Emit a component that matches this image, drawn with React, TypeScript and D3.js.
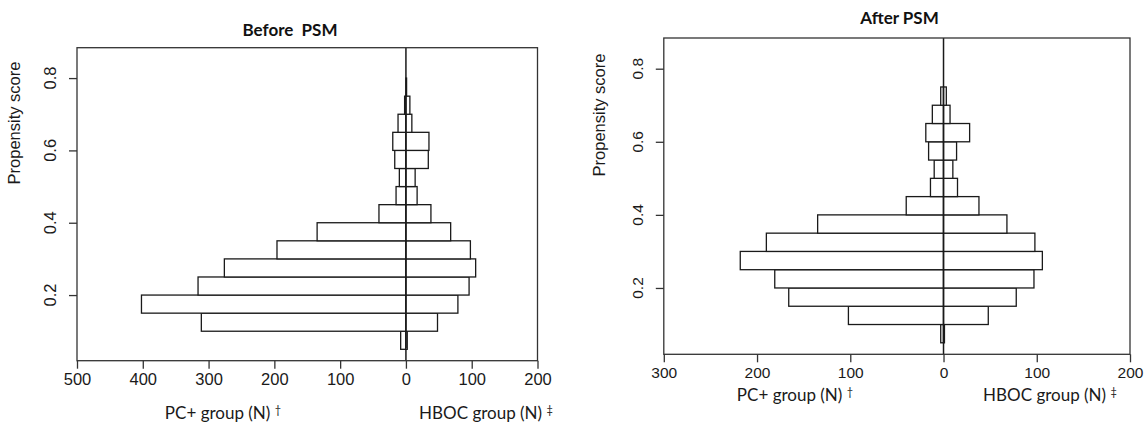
import React, { useEffect, useRef } from 'react';
import * as d3 from 'd3';

// bin lower edges (propensity score), bins are 0.05 wide
const binsBefore = [0.05, 0.10, 0.15, 0.20, 0.25, 0.30, 0.35, 0.40, 0.45, 0.50, 0.55, 0.60, 0.65, 0.70, 0.75];
const pcBefore = [8, 311, 402, 316, 276, 196, 135, 41, 15, 10, 17, 20, 12, 2, 0];
const hbocBefore = [2, 48, 79, 96, 106, 98, 68, 38, 17, 14, 34, 35, 9, 6, 1];

const binsAfter = [0.05, 0.10, 0.15, 0.20, 0.25, 0.30, 0.35, 0.40, 0.45, 0.50, 0.55, 0.60, 0.65, 0.70];
const pcAfter = [3, 102, 166, 181, 218, 190, 135, 40, 14, 10, 16, 19, 12, 3];
const hbocAfter = [1, 48, 78, 97, 106, 98, 68, 38, 15, 10, 14, 28, 7, 3];

const yTicks = [0.2, 0.4, 0.6, 0.8];
const xTicksBefore = [-500, -400, -300, -200, -100, 0, 100, 200];
const xTicksAfter = [-300, -200, -100, 0, 100, 200];

const BIN_W = 0.05;

function drawPanel(svg, p) {
  const x = d3.scaleLinear().domain(p.xDomain).range([p.left, p.right]);
  const y = d3.scaleLinear().domain([0.0185, 0.884]).range([p.bottom, p.top]);
  const g = svg.append('g');
  const ink = '#1a1a1a';

  // bars, left side (PC+) and right side (HBOC)
  p.bins.forEach((b, i) => {
    const y0 = y(b + BIN_W);
    const h = y(b) - y(b + BIN_W);
    if (p.pc[i] > 0) {
      g.append('rect')
        .attr('x', x(-p.pc[i])).attr('y', y0)
        .attr('width', x(0) - x(-p.pc[i])).attr('height', h)
        .attr('fill', 'white').attr('stroke', ink).attr('stroke-width', 1.3);
    }
    if (p.hboc[i] > 0) {
      g.append('rect')
        .attr('x', x(0)).attr('y', y0)
        .attr('width', x(p.hboc[i]) - x(0)).attr('height', h)
        .attr('fill', 'white').attr('stroke', ink).attr('stroke-width', 1.3);
    }
  });

  // zero line
  g.append('line')
    .attr('x1', x(0)).attr('x2', x(0))
    .attr('y1', p.top).attr('y2', p.bottom)
    .attr('stroke', ink).attr('stroke-width', 1.5);

  // box
  g.append('rect')
    .attr('x', p.left).attr('y', p.top)
    .attr('width', p.right - p.left).attr('height', p.bottom - p.top)
    .attr('fill', 'none').attr('stroke', '#333').attr('stroke-width', 1.3);

  // x axis
  const xa = g.append('g')
    .attr('transform', `translate(0,${p.bottom})`)
    .call(d3.axisBottom(x).tickValues(p.xTicks).tickSize(8).tickPadding(5)
      .tickFormat(d => String(Math.abs(d))));
  xa.select('.domain').remove();
  xa.selectAll('line').attr('stroke', '#333').attr('stroke-width', 1.3);
  xa.selectAll('text')
    .attr('font-family', 'Liberation Sans, Arial, sans-serif')
    .attr('font-size', p.tickFont).attr('fill', ink);

  // y axis
  const ya = g.append('g')
    .attr('transform', `translate(${p.left},0)`)
    .call(d3.axisLeft(y).tickValues(yTicks).tickSize(8).tickFormat(d3.format('.1f')));
  ya.select('.domain').remove();
  ya.selectAll('line').attr('stroke', '#333').attr('stroke-width', 1.3);
  ya.selectAll('text').remove();
  yTicks.forEach(t => {
    g.append('text')
      .attr('transform', `translate(${p.yTickX},${y(t)}) rotate(-90)`)
      .attr('text-anchor', 'middle')
      .attr('font-family', 'Liberation Sans, Arial, sans-serif')
      .attr('font-size', p.tickFont).attr('fill', ink)
      .text(d3.format('.1f')(t));
  });

  // y label
  g.append('text')
    .attr('transform', `translate(${p.yLabX},${p.yLabY}) rotate(-90)`)
    .attr('text-anchor', 'middle')
    .attr('font-family', 'Liberation Sans, Arial, sans-serif')
    .attr('font-size', 16.5).attr('fill', ink)
    .text('Propensity score');

  // title
  g.append('text')
    .attr('x', p.titleX).attr('y', p.titleY)
    .attr('text-anchor', 'middle')
    .attr('font-family', 'Lato, sans-serif')
    .attr('font-weight', 'bold')
    .attr('font-size', 17).attr('fill', '#111')
    .attr('xml:space', 'preserve')
    .text(p.title);

  // group labels
  const lab = (cx, txt, mark) => {
    const t = g.append('text')
      .attr('x', cx).attr('y', p.labY)
      .attr('text-anchor', 'middle')
      .attr('font-family', 'Lato, sans-serif')
      .attr('font-size', 17).attr('fill', ink);
    t.append('tspan').text(txt + ' ');
    t.append('tspan').attr('font-size', 11).attr('dy', -5).text(mark);
  };
  lab(p.pcLabX, 'PC+ group (N)', '†');
  lab(p.hbLabX, 'HBOC group (N)', '‡');
}

export default function App() {
  const svgRef = useRef(null);

  useEffect(() => {
    const svg = d3.select(svgRef.current);
    svg.selectAll('*').remove();

    drawPanel(svg, {
      bins: binsBefore, pc: pcBefore, hboc: hbocBefore,
      xDomain: [-500, 200], xTicks: xTicksBefore,
      left: 77, right: 537.5, top: 47.7, bottom: 360.7,
      tickFont: 16.5, yTickX: 56, yLabX: 20, yLabY: 123,
      title: 'Before  PSM', titleX: 290, titleY: 36,
      labY: 419, pcLabX: 223, hbLabX: 486,
    });

    drawPanel(svg, {
      bins: binsAfter, pc: pcAfter, hboc: hbocAfter,
      xDomain: [-300, 200], xTicks: xTicksAfter,
      left: 663.8, right: 1130, top: 38, bottom: 354.3,
      tickFont: 15.5, yTickX: 643, yLabX: 605, yLabY: 115,
      title: 'After PSM', titleX: 899.5, titleY: 24,
      labY: 401, pcLabX: 795, hbLabX: 1050,
    });
  }, []);

  return (
    <svg ref={svgRef} width={1145} height={426}
      style={{ position: 'absolute', left: 0, top: 0, background: 'white' }} />
  );
}
